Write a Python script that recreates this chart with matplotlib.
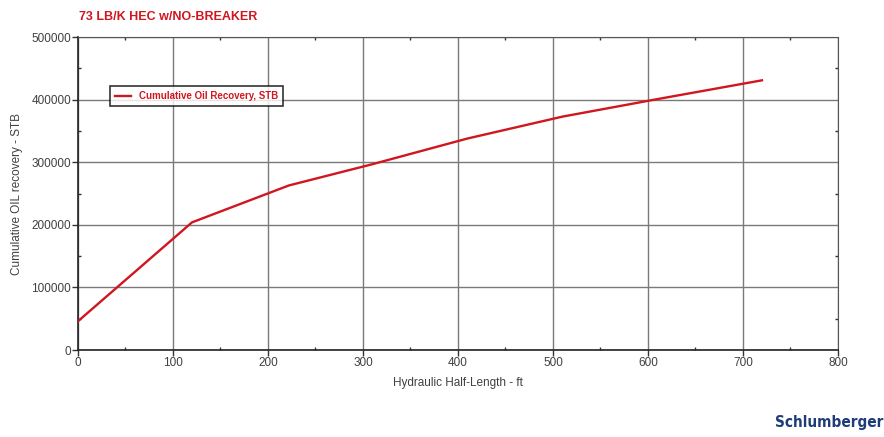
import matplotlib
matplotlib.use("Agg")
import matplotlib.pyplot as plt
from matplotlib.ticker import MultipleLocator

plt.rcParams['font.family'] = ['Liberation Sans', 'DejaVu Sans']

# values
half_length = [0, 120, 222, 310, 410, 510, 610, 720]
oil_recovery = [46000, 204000, 263000, 297000, 338000, 373000, 401000, 431000]

x_ticks = [0, 100, 200, 300, 400, 500, 600, 700, 800]
y_ticks = [0, 100000, 200000, 300000, 400000, 500000]

red = '#d0161e'
grey_text = '#404040'

fig = plt.figure(figsize=(8.84, 4.37), dpi=100)
ax = fig.add_axes([0.0882, 0.199, 0.8597, 0.716])

ax.plot(half_length, oil_recovery, color=red, linewidth=1.7,
        label='Cumulative Oil Recovery, STB', zorder=3)

ax.set_xlim(0, 800)
ax.set_ylim(0, 500000)
ax.set_xticks(x_ticks)
ax.set_yticks(y_ticks)
ax.xaxis.set_minor_locator(MultipleLocator(50))
ax.yaxis.set_minor_locator(MultipleLocator(50000))
ax.tick_params(which='major', direction='out', length=4, width=1,
               labelsize=8.5, labelcolor=grey_text, color='#333333', pad=1)
ax.tick_params(which='minor', direction='in', length=2, width=1,
               color='#333333', top=True, right=True)
ax.grid(True, which='major', color='#7a7a7a', linewidth=1)
ax.set_axisbelow(True)
for s in ax.spines.values():
    s.set_color('#555555')
ax.spines['left'].set_color('#222222')
ax.spines['bottom'].set_color('#222222')
ax.spines['left'].set_linewidth(1.2)
ax.spines['bottom'].set_linewidth(1.2)

ax.set_xlabel('Hydraulic Half-Length - ft', fontsize=8.5, color=grey_text, labelpad=6)
ax.set_ylabel('Cumulative OIL recovery - STB', fontsize=8.5, color=grey_text, labelpad=6)

leg = ax.legend(loc='upper left', bbox_to_anchor=(0.042, 0.845),
                frameon=True, fancybox=False, edgecolor='black', handlelength=1.6,
                borderpad=0.55, borderaxespad=0, labelcolor=red,
                prop={'weight': 'bold', 'size': 7, 'stretch': 'condensed'})
leg.get_frame().set_linewidth(1.2)

fig.text(0.089, 0.962, '73 LB/K HEC w/NO-BREAKER', color=red, fontsize=9,
         fontweight='bold', ha='left', va='center')

fig.text(0.999, 0.033, 'Schlumberger', color='#1d3c78', fontsize=11,
         fontweight='bold', fontstretch='condensed', family='DejaVu Sans',
         ha='right', va='center')

fig.savefig('out.png', dpi=100)
